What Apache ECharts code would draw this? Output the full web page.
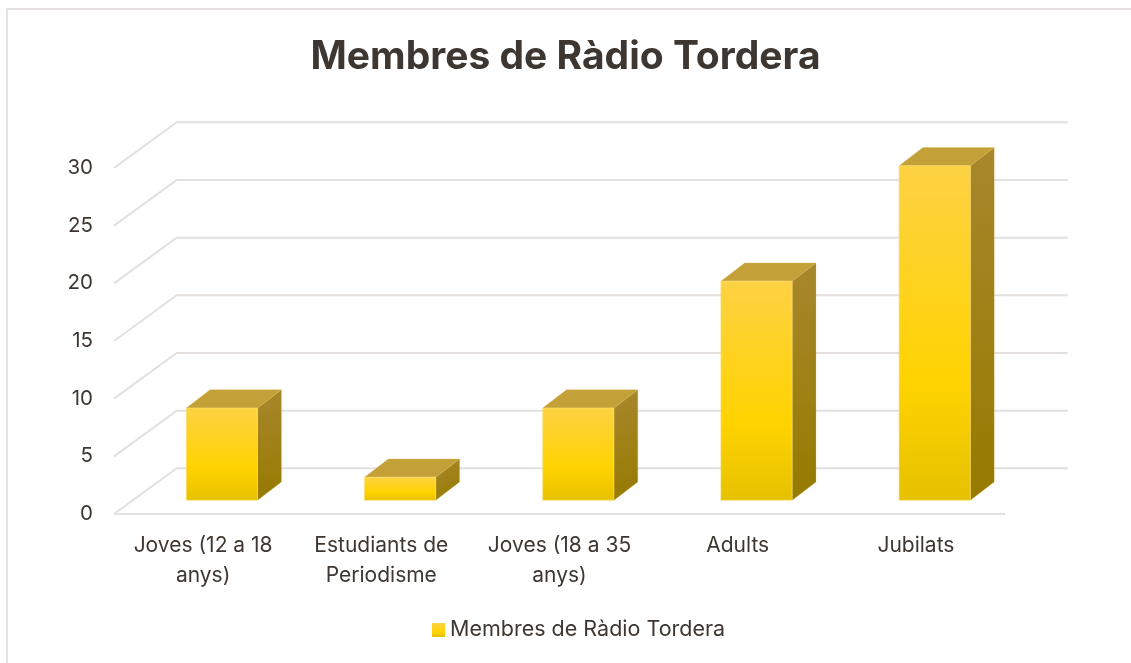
<!DOCTYPE html>
<html>
<head>
<meta charset="utf-8">
<script src="https://cdn.jsdelivr.net/npm/echarts@6/dist/echarts.min.js"></script>
<style>
  html, body { margin: 0; padding: 0; background: #fff; }
  #main { width: 1131px; height: 663px; }
</style>
</head>
<body>
<div id="main"></div>
<script>
// dades
const categories = ["Joves (12 a 18\nanys)", "Estudiants de\nPeriodisme", "Joves (18 a 35\nanys)", "Adults", "Jubilats"];
const membres = [8, 2, 8, 19, 29];
const yTicks = [0, 5, 10, 15, 20, 25, 30];
const seriesName = "Membres de Ràdio Tordera";

// perspectiva (profunditat del "3D")
const DX = 62.7;
const DY = -45.7;

var myChart = echarts.init(document.getElementById("main"));

const frontColor = {
  type: "linear", x: 0, y: 0, x2: 0, y2: 1,
  colorStops: [
    { offset: 0, color: "#FDD243" },
    { offset: 0.65, color: "#FFD300" },
    { offset: 1, color: "#E6C100" },
  ],
};
const sideColor = {
  type: "linear", x: 0, y: 0, x2: 1, y2: 1,
  colorStops: [
    { offset: 0, color: "#A8872C" },
    { offset: 1, color: "#967A00" },
  ],
};

function renderWall(params, api) {
  const v = api.value(1);
  const y = api.coord([0, v])[1];
  const cs = params.coordSys;
  const left = cs.x;
  const right = cs.x + cs.width;
  const style = { stroke: "#E4E0DD", lineWidth: 2, fill: null };
  const children = [
    {
      type: "polyline",
      shape: { points: [[left, y], [left + DX, y + DY], [right + DX, y + DY]] },
      style: style,
    },
  ];
  if (v === 0) {
    children.push({
      type: "line",
      shape: { x1: left, y1: y, x2: right, y2: y },
      style: style,
    });
  }
  return { type: "group", children: children };
}

function renderBar(params, api) {
  const idx = api.value(0);
  const v = api.value(1);
  const base = api.coord([idx, 0]);
  const top = api.coord([idx, v]);
  const band = api.size([1, 0])[0];
  const w = band * 0.4;
  const ox = DX * 0.3, oy = DY * 0.3;
  const dx = DX * 0.38, dy = DY * 0.4;
  const x0 = base[0] - w / 2 + ox;
  const x1 = x0 + w;
  const yb = base[1] + oy;
  const yt = top[1] + oy;
  return {
    type: "group",
    children: [
      {
        type: "polygon",
        shape: { points: [[x1, yt], [x1 + dx, yt + dy], [x1 + dx, yb + dy], [x1, yb]] },
        style: { fill: sideColor, stroke: "rgba(200,170,60,0.5)", lineWidth: 0.5 },
      },
      {
        type: "polygon",
        shape: { points: [[x0, yt], [x1, yt], [x1 + dx, yt + dy], [x0 + dx, yt + dy]] },
        style: { fill: "#C3A038", stroke: "rgba(220,190,80,0.6)", lineWidth: 0.5 },
      },
      {
        type: "rect",
        shape: { x: x0, y: yt, width: w, height: yb - yt },
        style: { fill: frontColor, stroke: "rgba(255,225,110,0.7)", lineWidth: 0.8 },
      },
    ],
  };
}

var option = {
  backgroundColor: "#fff",
  animation: false,
  title: {
    text: seriesName,
    left: "center",
    top: 33,
    textStyle: {
      fontFamily: "Inter",
      fontSize: 39,
      fontWeight: "bold",
      color: "#3E3731",
    },
  },
  graphic: [
    {
      type: "rect",
      shape: { x: 7, y: 9, width: 1140, height: 670 },
      style: { fill: null, stroke: "#E6E1DE", lineWidth: 2 },
      silent: true,
    },
  ],
  legend: {
    bottom: 17,
    left: 427,
    icon: "rect",
    itemWidth: 13,
    itemHeight: 14,
    itemGap: 6,
    data: [seriesName],
    textStyle: {
      fontFamily: "Inter",
      fontSize: 21.5,
      color: "#3E3731",
      padding: [0, 0, 0, 0],
    },
  },
  grid: {
    left: 114,
    right: 126,
    top: 168,
    bottom: 149,
  },
  xAxis: {
    type: "category",
    data: categories,
    axisLine: { show: false },
    axisTick: { show: false },
    axisLabel: {
      margin: 17,
      fontFamily: "Inter",
      fontSize: 21,
      lineHeight: 30,
      color: "#3E3731",
      interval: 0,
    },
  },
  yAxis: {
    type: "value",
    min: 0,
    max: 30,
    interval: 5,
    axisLine: { show: false },
    axisTick: { show: false },
    splitLine: { show: false },
    axisLabel: {
      margin: 21,
      fontFamily: "Inter",
      fontSize: 20.5,
      color: "#3E3731",
    },
  },
  series: [
    {
      type: "custom",
      silent: true,
      z: 1,
      renderItem: renderWall,
      data: yTicks.map((t) => [0, t]),
      encode: { x: 0, y: 1 },
    },
    {
      name: seriesName,
      type: "custom",
      z: 2,
      renderItem: renderBar,
      itemStyle: { color: frontColor },
      data: membres.map((m, i) => [i, m]),
      encode: { x: 0, y: 1 },
    },
  ],
};
myChart.setOption(option);
</script>
</body>
</html>
